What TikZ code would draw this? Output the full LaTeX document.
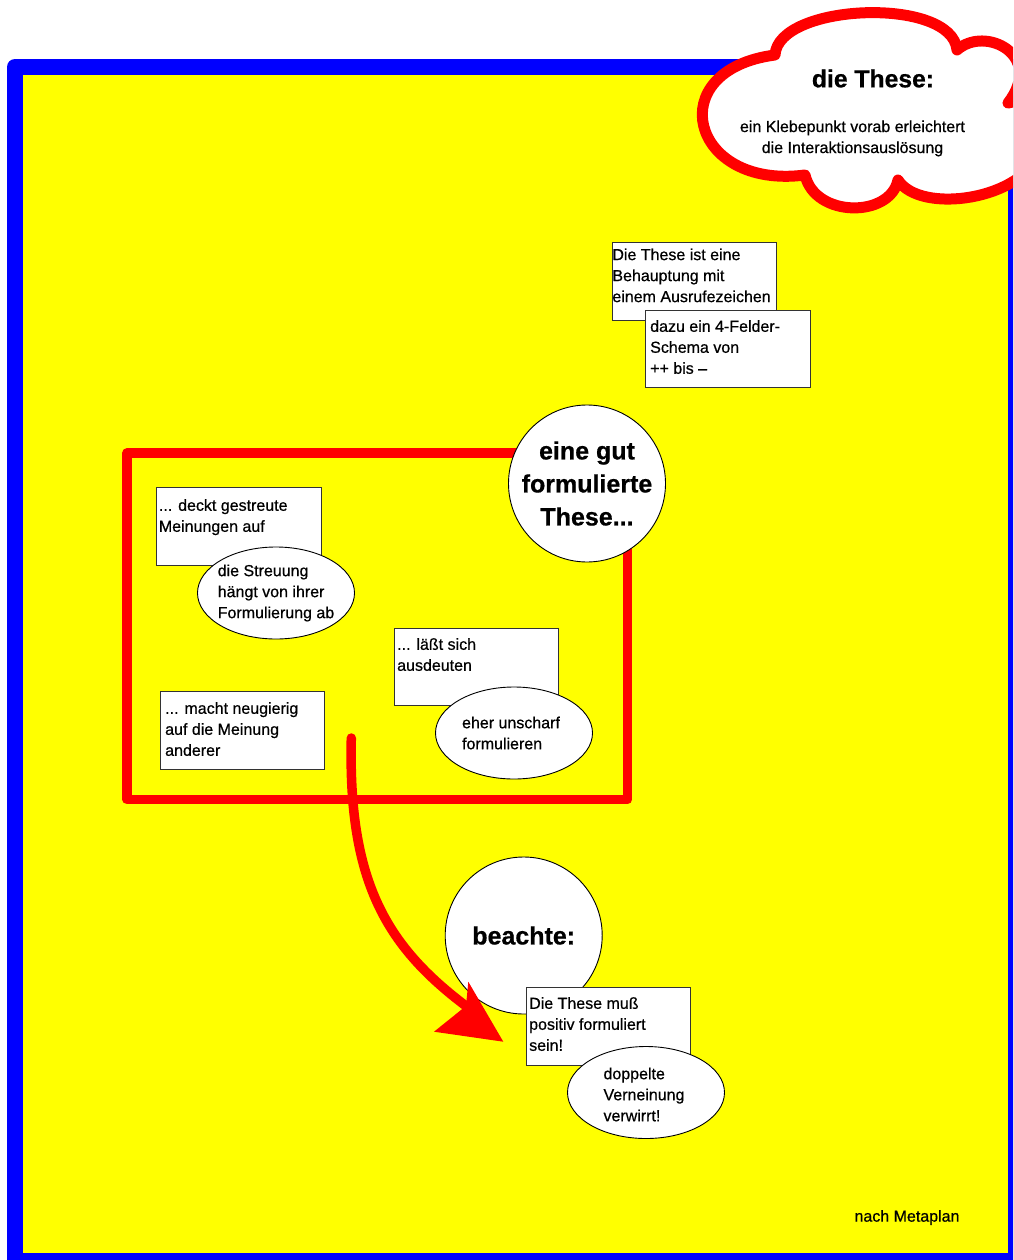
\documentclass[tikz,border=0pt]{standalone}
\usepackage{fontspec}
\setmainfont{Liberation Sans}[FakeBold=0.6]
\usetikzlibrary{shapes.geometric}
\definecolor{fyellow}{RGB}{255,255,0}
\definecolor{fblue}{RGB}{0,0,255}
\definecolor{fred}{RGB}{255,0,0}
\begin{document}
\begin{tikzpicture}[x=1pt,y=-1pt,
  notebox/.style={draw=black!80, line width=0.9pt, fill=white, rectangle, inner sep=0pt,
    minimum width=164pt, minimum height=78pt, anchor=north west},
  boxtext/.style 2 args={anchor=north west, align=left, inner sep=0pt,
    font=\fontsize{16}{21}\selectfont, xshift=#1, yshift=#2},
  bubble/.style={ellipse, draw=black, line width=0.9pt, fill=white,
    minimum width=157pt, minimum height=92pt, inner sep=0pt},
  bubtext/.style={align=left, inner sep=0pt, font=\fontsize{16}{21}\selectfont},
  bigcircle/.style={circle, draw=black, line width=0.9pt, fill=white,
    minimum size=157pt, inner sep=0pt, align=center,
    font=\bfseries\fontsize{25}{33}\selectfont},
  redline/.style={fred, line width=9.5pt},
]
\useasboundingbox (0,0) rectangle (1013,1260);
\clip (0,0) rectangle (1013,1260);
\fill[white] (0,0) rectangle (1013,1260);

% blue frame with yellow field
\draw[fblue, line width=16pt, fill=fyellow, line join=round] (15,67) rectangle (1016,1261);

% cloud
\draw[fred, line width=11pt, fill=white, line join=round]
  (775,55) .. controls (778,3) and (952,-4) .. (957,50)
  .. controls (985,25) and (1045,55) .. (1008,103)
  .. controls (1040,95) and (1055,130) .. (1040,150)
  .. controls (1025,200) and (920,215) .. (898,180)
  .. controls (890,218) and (815,218) .. (805,175)
  .. controls (690,190) and (660,70) .. (775,55) -- cycle;
\node[inner sep=0pt, font=\bfseries\fontsize{24.7}{30}\selectfont] (cloudtitle) at (873,78.5) {die These:};
\node[inner sep=0pt, align=center, font=\fontsize{16}{21}\selectfont] (cloudtext) at (852.5,138.4)
  {ein Klebepunkt vorab erleichtert\\die Interaktionsauslösung};

% top right notes
\node[notebox] (behauptung) at (611.7,241.7) {};
\node[boxtext={0.5pt}{-6.6pt}] (behauptungtxt) at (behauptung.north west)
  {Die These ist eine\\Behauptung mit\\einem Ausrufezeichen};
\node[notebox, minimum width=165pt, minimum height=77pt] (schema) at (645,310) {};
\node[boxtext={5pt}{-10pt}] (schematxt) at (schema.north west)
  {dazu ein 4-Felder-\\Schema von\\++ bis --};

% red frame
\draw[redline, line join=round] (127,453) rectangle (627.5,799.5);

\node[bigcircle] (gut) at (587,483.5) {eine gut\\formulierte\\These...};

% notes inside red frame
\node[notebox, minimum width=165pt] (deckt) at (155.7,487) {};
\node[boxtext={3pt}{-12pt}] (decktxt) at (deckt.north west) {... deckt gestreute\\Meinungen auf};
\node[bubble] (streuung) at (276,593) {};
\node[bubtext] (streuungtxt) at (streuung.center) {die Streuung\\hängt von ihrer\\Formulierung ab};

\node[notebox, minimum height=77pt] (ausdeuten) at (394,628) {};
\node[boxtext={3pt}{-10pt}] (ausdeutentxt) at (ausdeuten.north west) {... läßt sich\\ausdeuten};
\node[bubble] (unscharf) at (514,733) {};
\node[bubtext, xshift=-3pt] (unscharftxt) at (unscharf.center) {eher unscharf\\formulieren};

\node[notebox] (neugierig) at (160,691) {};
\node[boxtext={5pt}{-11pt}] (neugierigtxt) at (neugierig.north west)
  {... macht neugierig\\auf die Meinung\\anderer};

% beachte
\node[bigcircle] (beachte) at (523.7,935.5) {beachte:};

% arrow
\coordinate (arrstart) at (351.3,738);
\coordinate (arrend) at (466,1006);
\draw[redline, line cap=round] (arrstart) .. controls (348,880) and (385,945) .. (arrend);
\fill[fred] (468.3,981.7) -- (503.3,1041.7) -- (434,1031.7) -- (arrend) -- cycle;

\node[notebox] (positiv) at (526,987) {};
\node[boxtext={3pt}{-10pt}] (positivtxt) at (positiv.north west)
  {Die These muß\\positiv formuliert\\sein!};
\node[bubble] (verneinung) at (646,1092.5) {};
\node[bubtext, xshift=-2pt, yshift=-2pt] (verneinungtxt) at (verneinung.center)
  {doppelte\\Verneinung\\verwirrt!};

% source
\node[inner sep=0pt, font=\fontsize{16}{21}\selectfont] (quelle) at (907,1217.5) {nach Metaplan};
\end{tikzpicture}
\end{document}
